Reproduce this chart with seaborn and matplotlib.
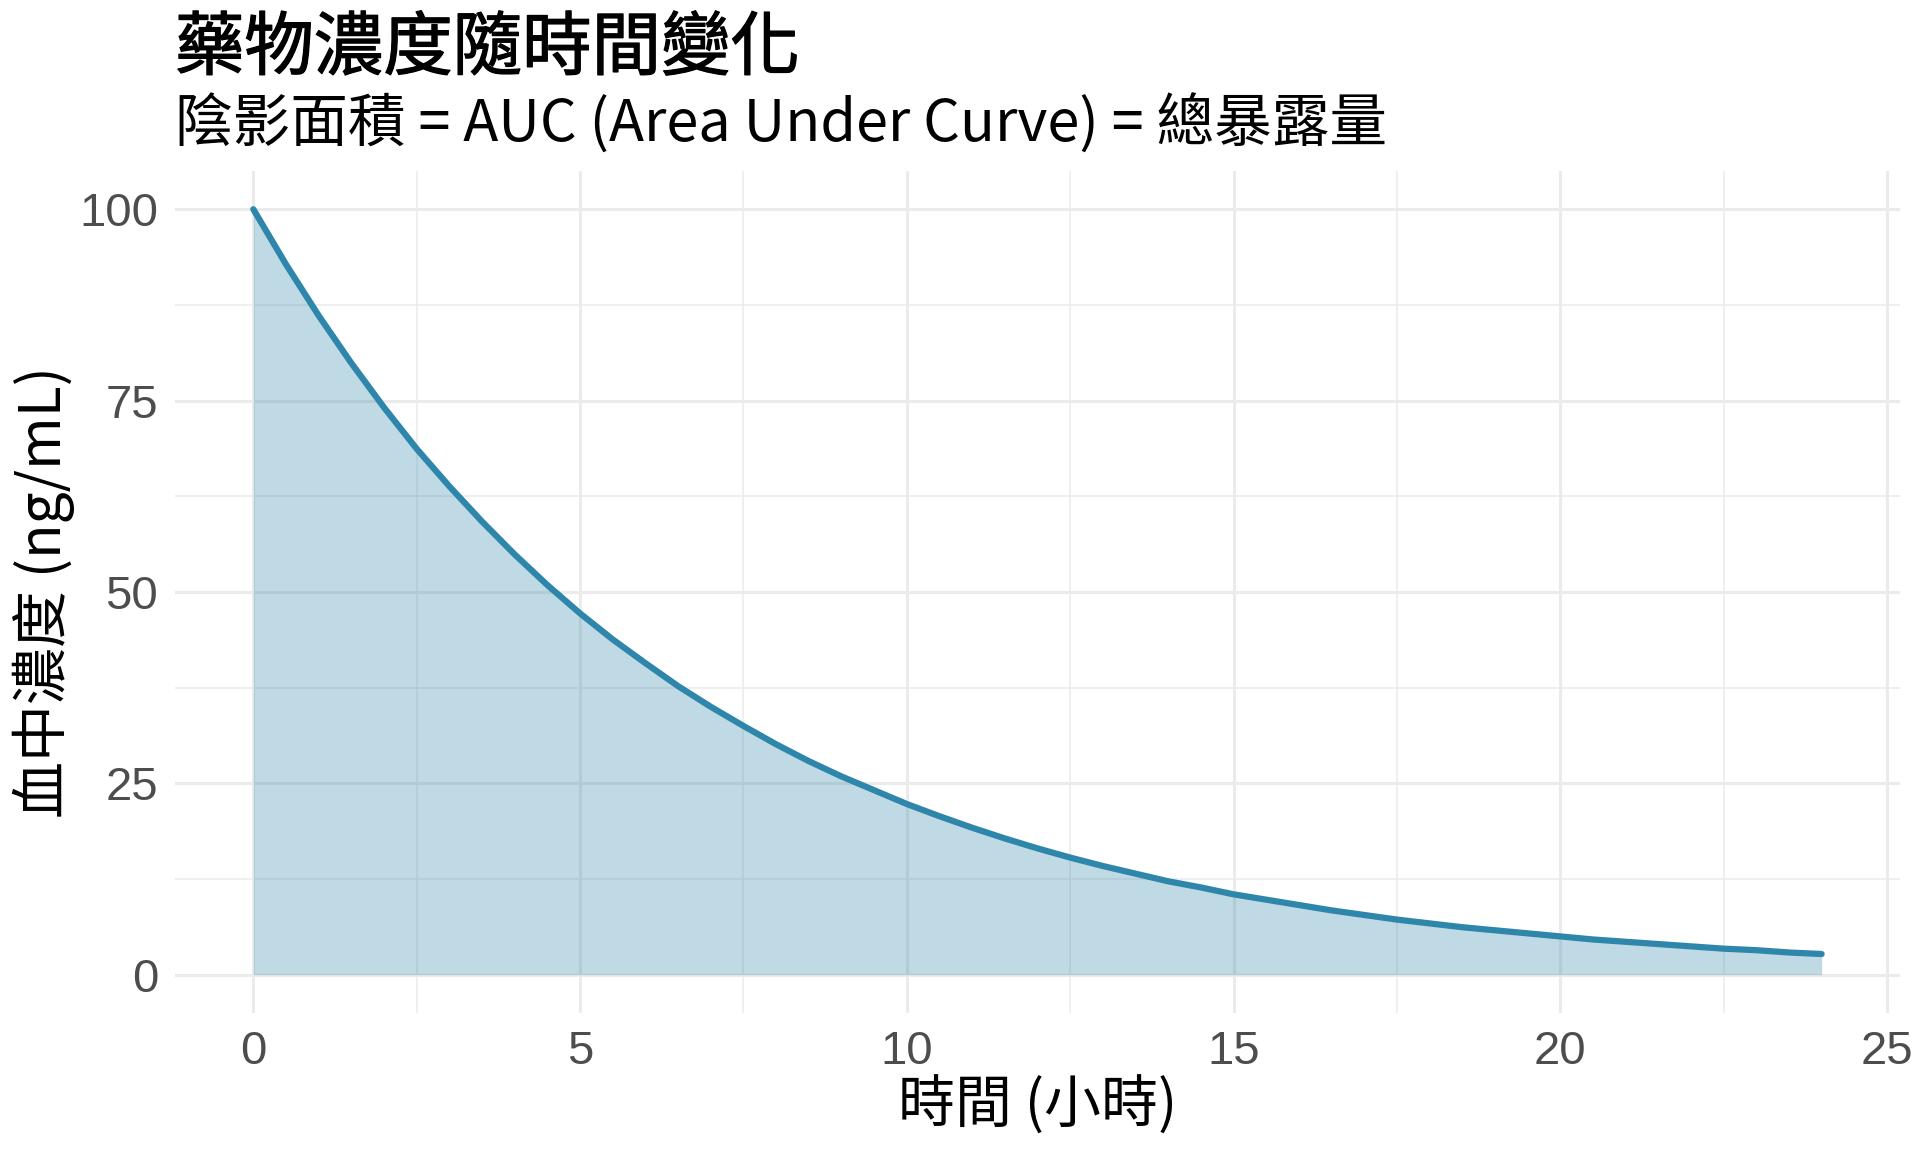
import matplotlib
matplotlib.use('Agg')
import matplotlib.pyplot as plt
import matplotlib.patheffects as pe
import seaborn as sns
import pandas as pd

# 時間 (小時) 與 血中濃度 (ng/mL)
hours = [0, 0.5, 1, 1.5, 2, 2.5, 3, 3.5, 4, 4.5, 5, 5.5, 6, 6.5, 7, 7.5, 8, 8.5,
         9, 9.5, 10, 10.5, 11, 11.5, 12, 12.5, 13, 13.5, 14, 14.5, 15, 15.5, 16,
         16.5, 17, 17.5, 18, 18.5, 19, 19.5, 20, 20.5, 21, 21.5, 22, 22.5, 23,
         23.5, 24]
conc = [100.0, 92.8, 86.1, 79.9, 74.1, 68.7, 63.8, 59.2, 54.9, 50.9, 47.2, 43.8,
        40.7, 37.7, 35.0, 32.5, 30.1, 27.9, 25.9, 24.1, 22.3, 20.7, 19.2, 17.8,
        16.5, 15.3, 14.2, 13.2, 12.2, 11.4, 10.5, 9.8, 9.1, 8.4, 7.8, 7.2, 6.7,
        6.2, 5.8, 5.4, 5.0, 4.6, 4.3, 4.0, 3.7, 3.4, 3.2, 2.9, 2.7]
x_ticks = [0, 5, 10, 15, 20, 25]
y_ticks = [0, 25, 50, 75, 100]

df = pd.DataFrame({'time': hours, 'conc': conc})

sns.set_theme(style='white')
plt.rcParams['font.family'] = ['Noto Sans CJK TC', 'DejaVu Sans']
plt.rcParams['text.color'] = 'black'

line_color = '#2E86AB'

fig = plt.figure(figsize=(19.2, 11.52), dpi=100)
ax = fig.add_axes([0.0911, 0.1207, 0.8985, 0.7309])

# 面積 + 曲線
ax.fill_between(df['time'], df['conc'], 0, color=line_color, alpha=0.3, linewidth=0)
sns.lineplot(data=df, x='time', y='conc', color=line_color, linewidth=4.5, ax=ax)

ax.set_xlim(-1.2, 25.2)
ax.set_ylim(-5, 105)

# 格線 (類似 theme_minimal)
for v in x_ticks:
    ax.axvline(v, color='#EBEBEB', lw=2.2, zorder=0)
for v in [2.5, 7.5, 12.5, 17.5, 22.5]:
    ax.axvline(v, color='#EBEBEB', lw=1.1, zorder=0)
for v in y_ticks:
    ax.axhline(v, color='#EBEBEB', lw=2.2, zorder=0)
for v in [12.5, 37.5, 62.5, 87.5]:
    ax.axhline(v, color='#EBEBEB', lw=1.1, zorder=0)

ax.set_xticks(x_ticks)
ax.set_yticks(y_ticks)
ax.set_xticklabels([str(v) for v in x_ticks])
ax.set_yticklabels([str(v) for v in y_ticks])
ax.tick_params(length=0, labelsize=34, labelcolor='#4D4D4D', pad=12)
for lab in ax.get_xticklabels() + ax.get_yticklabels():
    lab.set_fontfamily('Liberation Sans')

for s in ax.spines.values():
    s.set_visible(False)

ax.set_xlabel('時間 (小時)', fontsize=41, color='black', labelpad=2)
ax.set_ylabel('血中濃度 (ng/mL)', fontsize=41, color='black', labelpad=3)

fig.text(0.0911, 0.957, '藥物濃度隨時間變化', fontsize=50,
         ha='left', va='center', color='black',
         path_effects=[pe.withStroke(linewidth=0.9, foreground='black')])
fig.text(0.0911, 0.892, '陰影面積 = AUC (Area Under Curve) = 總暴露量', fontsize=41.5,
         ha='left', va='center', color='black')

fig.savefig('out.png', dpi=100, facecolor='white')
